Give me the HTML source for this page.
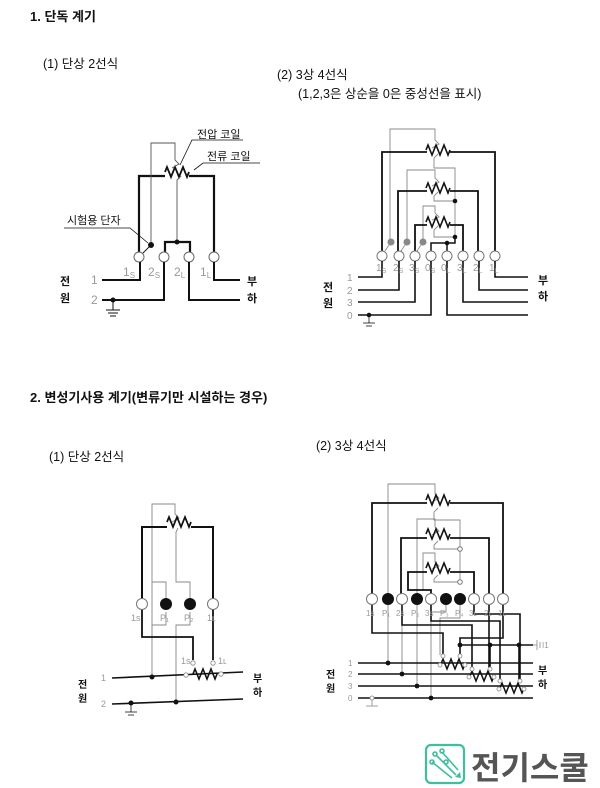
<!DOCTYPE html>
<html><head><meta charset="utf-8"><style>
html,body{margin:0;padding:0;background:#fff;}
svg{display:block;}
text{font-family:"Liberation Sans","Noto Sans CJK KR",sans-serif;}
.k{fill:#111;}
.g{fill:#999;}
</style></head><body>
<svg width="600" height="788" viewBox="0 0 600 788" xmlns="http://www.w3.org/2000/svg">
<defs>
<path id="zz" d="M0,0 l2,-5 l4,10 l4,-10 l4,10 l4,-10 l4,10 l2,-5" fill="none"/>
</defs>
<!-- titles -->
<text x="30" y="21" font-size="13" font-weight="bold" class="k">1. 단독 계기</text>
<text x="43" y="68" font-size="12.5" class="k">(1) 단상 2선식</text>
<text x="277" y="79" font-size="12.5" class="k">(2) 3상 4선식</text>
<text x="298" y="98" font-size="12.5" class="k">(1,2,3은 상순을 0은 중성선을 표시)</text>
<text x="30" y="402" font-size="13" font-weight="bold" class="k">2. 변성기사용 계기(변류기만 시설하는 경우)</text>
<text x="49" y="461" font-size="12.5" class="k">(1) 단상 2선식</text>
<text x="316" y="450" font-size="12.5" class="k">(2) 3상 4선식</text>

<!-- ===== Diagram 1 ===== -->
<g fill="none" stroke="#111">
 <!-- thick current coil -->
 <polyline points="139,252 139,176 165,176" stroke-width="2.2"/>
 <use href="#zz" x="165" y="172" stroke-width="1.8"/>
 <polyline points="189,176 214,176 214,252" stroke-width="2.2"/>
 <!-- thin voltage -->
 <polyline points="151,245 151,143 175,143 175,160 179,164 172,168" stroke-width="0.9" stroke="#555"/>
 <polyline points="181,176 177,180 177,242" stroke-width="0.9" stroke="#555"/>
 <polyline points="165,252 165,242 190,242 190,252" stroke-width="2.2"/>
 <line x1="151" y1="245" x2="143" y2="253" stroke-width="0.9"/>
 <!-- leaders -->
 <polyline points="243,140 192,140 180,165" stroke-width="0.8"/>
 <polyline points="260,163 203,163 194,170" stroke-width="0.8"/>
 <polyline points="64,228 130,228 148,243" stroke-width="0.8"/>
 <!-- circles -->
 <g stroke-width="1" fill="#fff" stroke="#666">
  <circle cx="139" cy="257" r="5"/><circle cx="164" cy="257" r="5"/>
  <circle cx="189" cy="257" r="5"/><circle cx="214" cy="257" r="5"/>
 </g>
 <!-- lines -->
 <polyline points="102,280 140,280 140,262" stroke-width="2"/>
 <polyline points="102,300 164,300 164,262" stroke-width="2"/>
 <polyline points="189,262 189,300 240,300" stroke-width="2"/>
 <polyline points="214,262 214,280 240,280" stroke-width="2"/>
 <line x1="113" y1="300" x2="113" y2="310" stroke-width="1"/>
 <line x1="106" y1="310" x2="120" y2="310" stroke-width="1"/>
 <line x1="108" y1="313" x2="118" y2="313" stroke-width="1"/>
 <line x1="110" y1="316" x2="116" y2="316" stroke-width="1"/>
</g>
<circle cx="151" cy="245" r="3" class="k"/>
<circle cx="177" cy="242" r="2.5" class="k"/>
<circle cx="113" cy="300" r="2.5" class="k"/>
<text x="197" y="138" font-size="11" class="k">전압 코일</text>
<text x="207" y="160" font-size="11" class="k">전류 코일</text>
<text x="67" y="224" font-size="11" class="k">시험용 단자</text>
<g font-size="12" class="g">
 <text x="123" y="276">1<tspan font-size="8" dy="2">S</tspan></text>
 <text x="148" y="276">2<tspan font-size="8" dy="2">S</tspan></text>
 <text x="174" y="276">2<tspan font-size="8" dy="2">L</tspan></text>
 <text x="200" y="276">1<tspan font-size="8" dy="2">L</tspan></text>
 <text x="91" y="284">1</text><text x="91" y="304">2</text>
</g>
<text x="60" y="285" font-size="11" font-weight="bold" class="k">전</text>
<text x="60" y="302" font-size="11" font-weight="bold" class="k">원</text>
<text x="247" y="285" font-size="11" font-weight="bold" class="k">부</text>
<text x="247" y="302" font-size="11" font-weight="bold" class="k">하</text>

<!-- ===== Diagram 2 (3-phase) ===== -->
<g fill="none" stroke="#111">
 <!-- thin voltage loops -->
 <g stroke="#888" stroke-width="0.9">
  <polyline points="390,240 390,129 435,129 435,140 439,144 432,148"/>
  <polyline points="438,154 434,158 434,168 455,168 455,237"/>
  <polyline points="407,240 407,170 435,170 435,178 439,182 432,186"/>
  <polyline points="438,192 434,196 434,201 455,201"/>
  <polyline points="423,240 423,206 435,206 435,213 439,217 432,220"/>
  <polyline points="438,226 434,230 434,237 455,237"/>
 </g>
 <!-- thick coils -->
 <polyline points="382,251 382,152 427,152" stroke-width="1.8"/>
 <use href="#zz" x="426" y="150" stroke-width="1.6"/>
 <polyline points="450,152 495,152 495,251" stroke-width="1.8"/>
 <polyline points="398,251 398,191 427,191" stroke-width="1.8"/>
 <use href="#zz" x="426" y="188" stroke-width="1.6"/>
 <polyline points="450,191 478,191 478,251" stroke-width="1.8"/>
 <polyline points="415,251 415,225 427,225" stroke-width="1.8"/>
 <use href="#zz" x="426" y="222" stroke-width="1.6"/>
 <polyline points="450,225 463,225 463,251" stroke-width="1.8"/>
 <polyline points="455,237 455,243 431,243 431,251" stroke-width="1.5"/>
 <line x1="447" y1="243" x2="447" y2="251" stroke-width="1.5"/>
 <g stroke="#888" stroke-width="0.8">
  <line x1="391" y1="242" x2="385" y2="251"/><line x1="407" y1="242" x2="401" y2="251"/><line x1="423" y1="242" x2="417" y2="251"/>
 </g>
 <g stroke-width="1" fill="#fff" stroke="#777">
  <circle cx="382" cy="256" r="5"/><circle cx="399" cy="256" r="5"/><circle cx="415" cy="256" r="5"/><circle cx="431" cy="256" r="5"/>
  <circle cx="447" cy="256" r="5"/><circle cx="463" cy="256" r="5"/><circle cx="479" cy="256" r="5"/><circle cx="495" cy="256" r="5"/>
 </g>
 <g stroke-width="1.6">
  <polyline points="358,277 382,277 382,261"/>
  <polyline points="358,290 399,290 399,261"/>
  <polyline points="358,302 415,302 415,261"/>
  <polyline points="358,315 431,315 431,261"/>
  <polyline points="495,261 495,277 528,277"/>
  <polyline points="479,261 479,290 528,290"/>
  <polyline points="463,261 463,302 528,302"/>
  <polyline points="447,261 447,315 528,315"/>
 </g>
 <line x1="369" y1="315" x2="369" y2="323" stroke-width="0.8"/>
 <line x1="363" y1="323" x2="375" y2="323" stroke-width="0.8"/>
 <line x1="366" y1="326" x2="372" y2="326" stroke-width="0.8"/>
</g>
<circle cx="391" cy="242" r="3.5" fill="#888"/><circle cx="407" cy="242" r="3.5" fill="#888"/><circle cx="423" cy="242" r="3.5" fill="#888"/>
<circle cx="455" cy="201" r="2.3" class="k"/><circle cx="455" cy="237" r="2.3" class="k"/>
<circle cx="447" cy="243" r="2.3" class="k"/><circle cx="369" cy="315" r="2.3" class="k"/>
<g font-size="10" class="g">
 <text x="376" y="271">1<tspan font-size="7" dy="2">S</tspan></text>
 <text x="393" y="271">2<tspan font-size="7" dy="2">S</tspan></text>
 <text x="409" y="271">3<tspan font-size="7" dy="2">S</tspan></text>
 <text x="425" y="271">0<tspan font-size="7" dy="2">S</tspan></text>
 <text x="441" y="271">0<tspan font-size="7" dy="2">L</tspan></text>
 <text x="457" y="271">3<tspan font-size="7" dy="2">L</tspan></text>
 <text x="473" y="271">2<tspan font-size="7" dy="2">L</tspan></text>
 <text x="489" y="271">1<tspan font-size="7" dy="2">L</tspan></text>
 <text x="347" y="281">1</text><text x="347" y="294">2</text><text x="347" y="306">3</text><text x="347" y="319">0</text>
</g>
<text x="323" y="291" font-size="11" font-weight="bold" class="k">전</text>
<text x="323" y="307" font-size="11" font-weight="bold" class="k">원</text>
<text x="538" y="284" font-size="11" font-weight="bold" class="k">부</text>
<text x="538" y="300" font-size="11" font-weight="bold" class="k">하</text>

<!-- ===== Diagram 3 ===== -->
<g fill="none" stroke="#111">
 <g stroke="#888" stroke-width="0.9">
  <polyline points="152,640 152,504 175,504 175,514 179,518 172,522"/>
  <polyline points="152,625 166,625 166,612"/>
  <polyline points="152,625 152,677"/>
  <polyline points="178,528 176,532 176,582 190,582 190,598"/>
  <polyline points="166,598 166,582 152,582"/>
  <polyline points="190,612 190,625 176,625 176,702"/>
 </g>
 <polyline points="142,599 142,527 167,527" stroke-width="2"/>
 <use href="#zz" x="167" y="522" stroke-width="1.7"/>
 <polyline points="191,527 213,527 213,599" stroke-width="2"/>
 <polyline points="142,609 142,637 193,637 193,660" stroke-width="1.8"/>
 <polyline points="213,609 213,660" stroke-width="1.8"/>
 <g stroke-width="1" fill="#fff" stroke="#777">
  <circle cx="142" cy="604" r="5.5"/><circle cx="213" cy="604" r="5.5"/>
 </g>
 <line x1="112" y1="678" x2="243" y2="672" stroke-width="1.6"/>
 <line x1="112" y1="704" x2="243" y2="699" stroke-width="1.6"/>
 <use href="#zz" x="193" y="674" stroke-width="1.6"/>
 <g stroke-width="0.8" fill="#fff" stroke="#888">
  <circle cx="193" cy="663" r="2.2"/><circle cx="213" cy="663" r="2.2"/>
  <circle cx="186" cy="675" r="2.2"/><circle cx="221" cy="674" r="2.2"/>
 </g>
 <line x1="131" y1="704" x2="131" y2="712" stroke-width="0.8"/>
 <line x1="125" y1="712" x2="137" y2="712" stroke-width="0.8"/>
 <line x1="128" y1="715" x2="134" y2="715" stroke-width="0.8"/>
</g>
<circle cx="166" cy="604" r="6" class="k"/><circle cx="190" cy="604" r="6" class="k"/>
<circle cx="152" cy="677" r="2.5" class="k"/><circle cx="176" cy="702" r="2.5" class="k"/><circle cx="131" cy="703" r="2.5" class="k"/>
<g font-size="9" class="g">
 <text x="131" y="621">1s</text><text x="160" y="621">P₁</text><text x="184" y="621">P₂</text><text x="207" y="621">1ʟ</text>
 <text x="181" y="664">1s</text><text x="218" y="664">1ʟ</text>
 <text x="101" y="681">1</text><text x="101" y="707">2</text>
</g>
<text x="78" y="688" font-size="10" font-weight="bold" class="k">전</text>
<text x="78" y="702" font-size="10" font-weight="bold" class="k">원</text>
<text x="253" y="682" font-size="10" font-weight="bold" class="k">부</text>
<text x="253" y="696" font-size="10" font-weight="bold" class="k">하</text>

<!-- ===== Diagram 4 ===== -->
<g fill="none" stroke="#111">
 <g stroke="#888" stroke-width="0.9">
  <polyline points="388,599 388,484 435,484 435,494 439,498 432,502"/>
  <polyline points="438,508 434,512 434,520 460,520 460,582"/>
  <polyline points="417,594 417,519 435,519 435,527 439,531 432,535"/>
  <polyline points="438,541 434,545 434,549 458,549"/>
  <polyline points="423,590 423,553 435,553 435,562 439,566 432,569"/>
  <polyline points="438,575 434,579 434,582 458,582"/>
  <polyline points="388,605 388,663"/>
  <polyline points="402,610 402,674"/>
  <polyline points="417,605 417,685"/>
  <polyline points="446,605 446,612 431,612 431,698"/>
  <polyline points="460,605 460,618 440,618 440,655"/>
 </g>
 <polyline points="372,594 372,503 427,503" stroke-width="1.8"/>
 <use href="#zz" x="426" y="500" stroke-width="1.6"/>
 <polyline points="450,503 503,503 503,594" stroke-width="1.8"/>
 <polyline points="401,594 401,538 427,538" stroke-width="1.8"/>
 <use href="#zz" x="426" y="534" stroke-width="1.6"/>
 <polyline points="450,538 489,538 489,594" stroke-width="1.8"/>
 <polyline points="431,594 431,590 408,590 408,572 427,572" stroke-width="1.8"/>
 <use href="#zz" x="426" y="568" stroke-width="1.6"/>
 <polyline points="450,572 474,572 474,594" stroke-width="1.8"/>
 <g stroke-width="1" fill="#fff" stroke="#777">
  <circle cx="372" cy="599" r="5.5"/><circle cx="402" cy="599" r="5.5"/><circle cx="431" cy="599" r="5.5"/>
  <circle cx="474" cy="599" r="5.5"/><circle cx="489" cy="599" r="5.5"/><circle cx="503" cy="599" r="5.5"/>
  <circle cx="460" cy="549" r="2.3"/><circle cx="460" cy="582" r="2.3"/>
 </g>
 <g stroke-width="1.6">
  <polyline points="372,605 372,633 443,633 443,654"/>
  <polyline points="402,605 402,625 472,625 472,668"/>
  <polyline points="431,605 431,621 500,621 500,680"/>
  <polyline points="474,605 474,614 520,614 520,680"/>
  <polyline points="489,605 489,668"/>
  <polyline points="503,605 503,638 460,638 460,656"/>
  <polyline points="460,645 533,645"/>
  <line x1="490" y1="645" x2="490" y2="668"/>
  <line x1="519" y1="645" x2="519" y2="680"/>
  <line x1="358" y1="663" x2="533" y2="663"/>
  <line x1="358" y1="674" x2="533" y2="674"/>
  <line x1="358" y1="686" x2="533" y2="686"/>
  <line x1="358" y1="698" x2="533" y2="698"/>
 </g>
 <use href="#zz" x="441" y="664" stroke-width="1.5"/>
 <use href="#zz" x="470" y="676" stroke-width="1.5"/>
 <use href="#zz" x="500" y="688" stroke-width="1.5"/>
 <g stroke="#888" stroke-width="0.8">
  <line x1="533" y1="645" x2="537" y2="645"/><line x1="537" y1="640" x2="537" y2="650"/><line x1="540" y1="642" x2="540" y2="648"/>
  <line x1="372" y1="698" x2="372" y2="706"/><line x1="366" y1="706" x2="378" y2="706"/>
 </g>
 <g stroke-width="0.8" fill="#fff" stroke="#888">
  <circle cx="443" cy="656" r="2"/><circle cx="460" cy="656" r="2"/><circle cx="440" cy="665" r="2"/><circle cx="465" cy="665" r="2"/>
  <circle cx="472" cy="669" r="2"/><circle cx="490" cy="669" r="2"/><circle cx="469" cy="677" r="2"/><circle cx="494" cy="677" r="2"/>
  <circle cx="500" cy="681" r="2"/><circle cx="520" cy="681" r="2"/><circle cx="499" cy="689" r="2"/><circle cx="524" cy="689" r="2"/>
  <circle cx="372" cy="698" r="2"/>
 </g>
</g>
<circle cx="388" cy="599" r="6" class="k"/><circle cx="417" cy="599" r="6" class="k"/>
<circle cx="446" cy="599" r="6" class="k"/><circle cx="460" cy="599" r="6" class="k"/>
<circle cx="388" cy="663" r="2.4" class="k"/><circle cx="402" cy="674" r="2.4" class="k"/>
<circle cx="417" cy="686" r="2.4" class="k"/><circle cx="431" cy="698" r="2.4" class="k"/>
<circle cx="460" cy="645" r="2.4" class="k"/><circle cx="490" cy="645" r="2.4" class="k"/><circle cx="519" cy="645" r="2.4" class="k"/>
<g font-size="8" class="g">
 <text x="366" y="616">1s</text><text x="382" y="616">P₁</text><text x="396" y="616">2s</text><text x="411" y="616">P₂</text>
 <text x="425" y="616">3s</text><text x="440" y="616">P₃</text><text x="455" y="616">P₄</text><text x="469" y="616">3ʟ</text>
 <text x="484" y="616">2ʟ</text><text x="498" y="616">1ʟ</text>
 <text x="542" y="648">I1</text>
 <text x="348" y="666">1</text><text x="348" y="677">2</text><text x="348" y="689">3</text><text x="348" y="701">0</text>
</g>
<text x="326" y="678" font-size="10" font-weight="bold" class="k">전</text>
<text x="326" y="692" font-size="10" font-weight="bold" class="k">원</text>
<text x="538" y="674" font-size="10" font-weight="bold" class="k">부</text>
<text x="538" y="688" font-size="10" font-weight="bold" class="k">하</text>

<!-- logo -->
<g>
 <rect x="426" y="745" width="38" height="38" rx="5" fill="none" stroke="#3dbfa0" stroke-width="2.2"/>
 <g stroke="#3dbfa0" stroke-width="1.6" fill="none">
  <line x1="436" y1="755" x2="456" y2="775"/>
  <line x1="442" y1="752" x2="458" y2="770"/>
  <line x1="432" y1="762" x2="452" y2="778"/>
  <circle cx="435" cy="754" r="2"/><circle cx="442" cy="751" r="2"/><circle cx="432" cy="762" r="2"/>
  <circle cx="446" cy="762" r="2"/>
 </g>
 <path d="M455,777 l6,1 l-1,-6z" fill="#3dbfa0"/>
</g>
<text x="471" y="779" font-size="32" font-weight="bold" fill="#555">전기스쿨</text>
</svg>
</body></html>
